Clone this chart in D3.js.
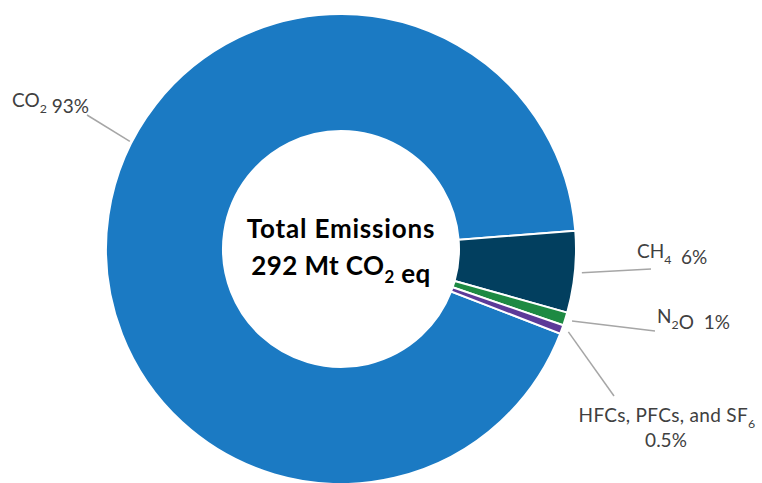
<!DOCTYPE html>
<html>
<head>
<meta charset="utf-8">
<script src="https://cdn.jsdelivr.net/npm/d3@7"></script>
<style>
  body { margin: 0; background: #fff; }
  text { font-family: Lato, "Open Sans", sans-serif; white-space: pre; }
</style>
</head>
<body>
<div id="chart"></div>
<script>
// data
const gases = ["CO2", "CH4", "N2O", "HFCs, PFCs, and SF6"];
const shares = [92.9, 5.6, 0.9, 0.6];
const pctLabels = ["93%", "6%", "1%", "0.5%"];
const colors = ["#1b7ac3", "#023f5f", "#1e8a43", "#5c3a98"];

const width = 762, height = 483;
const cx = 341, cy = 249;
const outerR = 235, innerR = 118;
const startDeg = 111.1;

const svg = d3.select("#chart")
  .append("svg")
  .attr("width", width)
  .attr("height", height);

const g = svg.append("g")
  .attr("transform", "translate(" + cx + "," + cy + ")");

const rows = gases.map(function(d, i) {
  return { gas: d, share: shares[i], pct: pctLabels[i], color: colors[i] };
});

const start = startDeg * Math.PI / 180;
const pie = d3.pie()
  .sort(null)
  .value(function(d) { return d.share; })
  .startAngle(start)
  .endAngle(start + 2 * Math.PI);

const arc = d3.arc()
  .innerRadius(innerR)
  .outerRadius(outerR);

const arcs = pie(rows);

g.selectAll("path")
  .data(arcs)
  .enter().append("path")
  .attr("d", arc)
  .attr("fill", function(d) { return d.data.color; })
  .attr("stroke", "white")
  .style("stroke-width", "2px");

// label layout (manual placement like the original)
// anchorDeg: where the leader line touches the ring (null = slice middle)
const labelLayout = [
  { x: 12, y: 107, anchor: "start", lineEnd: [87, 115], anchorDeg: 297 },
  { x: 637, y: 258, anchor: "start", lineEnd: [651, 269], anchorDeg: null },
  { x: 657, y: 323, anchor: "start", lineEnd: [655, 331], anchorDeg: null },
  { x: 667, y: 422, anchor: "middle", lineEnd: [614, 396], anchorDeg: null }
];

function subText(sel, parts, size) {
  parts.forEach(function(p) {
    if (p.sub) {
      sel.append("tspan").attr("dy", size * 0.3).style("font-size", (size * 0.65) + "px").text(p.t);
      sel.append("tspan").attr("dy", -size * 0.3).text("");
    } else {
      sel.append("tspan").text(p.t);
    }
  });
}

const labelParts = [
  [{ t: "CO" }, { t: "2", sub: true }, { t: " " + pctLabels[0] }],
  [{ t: "CH" }, { t: "4", sub: true }, { t: "  " + pctLabels[1] }],
  [{ t: "N" }, { t: "2", sub: true }, { t: "O  " + pctLabels[2] }],
  [{ t: "HFCs, PFCs, and SF" }, { t: "6", sub: true }]
];

const labelSize = 19;

arcs.forEach(function(a, i) {
  const L = labelLayout[i];
  const ang = L.anchorDeg === null ? (a.startAngle + a.endAngle) / 2 : L.anchorDeg * Math.PI / 180;
  const r0 = L.anchorDeg === null ? outerR + 7 : outerR + 2;
  svg.append("line")
    .attr("x1", cx + r0 * Math.sin(ang))
    .attr("y1", cy - r0 * Math.cos(ang))
    .attr("x2", L.lineEnd[0])
    .attr("y2", L.lineEnd[1])
    .attr("stroke", "#a6a6a6")
    .style("stroke-width", "1.5px");

  const t = svg.append("text")
    .attr("x", L.x)
    .attr("y", L.y)
    .attr("text-anchor", L.anchor)
    .attr("fill", "#404040")
    .style("font-size", labelSize + "px")
    .style("letter-spacing", i === 3 ? "0.3px" : "0px");
  subText(t, labelParts[i], labelSize);
});

// second line of the small-gas label
svg.append("text")
  .attr("x", 666)
  .attr("y", 447)
  .attr("text-anchor", "middle")
  .attr("fill", "#404040")
  .style("font-size", labelSize + "px")
  .text(rows[3].pct);

// centre text
const centerSize = 26;
svg.append("text")
  .attr("x", 341)
  .attr("y", 238)
  .attr("text-anchor", "middle")
  .attr("fill", "#000")
  .style("font-size", centerSize + "px")
  .style("font-weight", "bold")
  .style("letter-spacing", "0.8px")
  .text("Total Emissions");

const c2 = svg.append("text")
  .attr("x", 341)
  .attr("y", 275)
  .attr("text-anchor", "middle")
  .attr("fill", "#000")
  .style("font-size", centerSize + "px")
  .style("font-weight", "bold")
  .style("letter-spacing", "0.4px");
subText(c2, [{ t: "292 Mt CO" }, { t: "2", sub: true }, { t: " eq" }], centerSize);
</script>
</body>
</html>
